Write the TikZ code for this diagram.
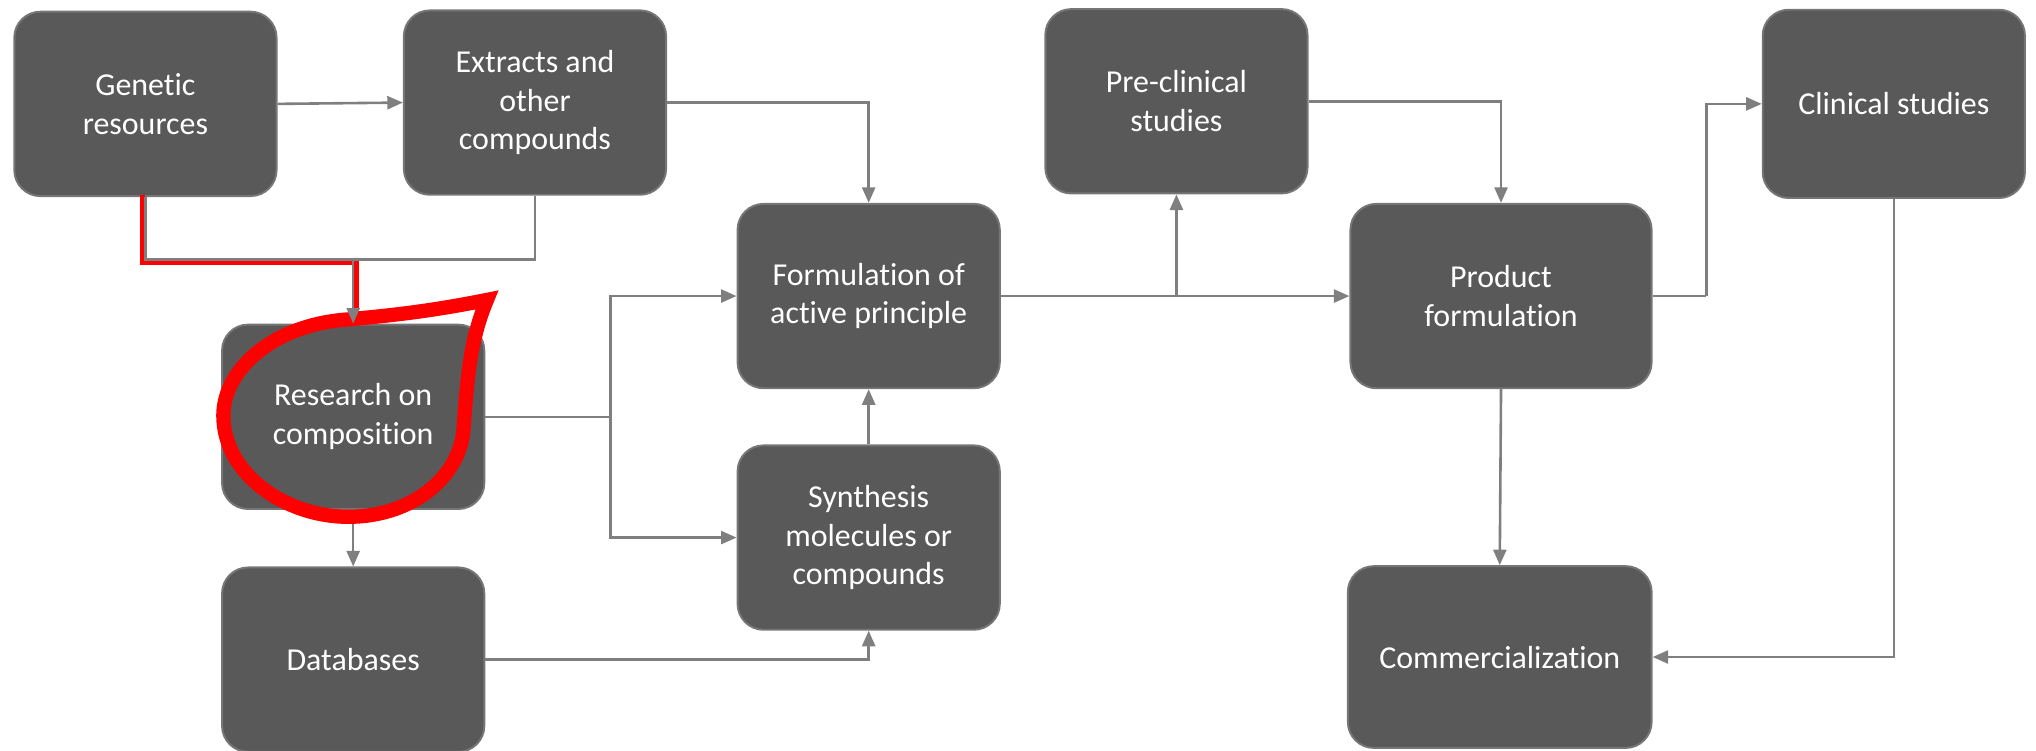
\documentclass[tikz,border=0pt]{standalone}
\usepackage{fontspec}
\setmainfont{Carlito}[Ligatures=NoCommon]
\usetikzlibrary{arrows.meta}

\definecolor{boxgray}{HTML}{595959}
\definecolor{edgegray}{HTML}{767676}
\definecolor{linegray}{HTML}{7F7F7F}

\tikzset{
    stage/.style={draw=edgegray, line width=0.03cm, fill=boxgray, rounded corners=0.4cm,
        text=white, align=center, font=\fontsize{14}{17}\selectfont,
        minimum width=4.04cm, minimum height=2.84cm, inner sep=0pt},
    flow/.style={draw=linegray, line width=0.04cm},
    flowarrow/.style={flow, -{Triangle[length=0.24cm,width=0.2cm]}},
    marker/.style={draw=red, line join=miter},
}

\begin{document}
\begin{tikzpicture}[x=0.02cm,y=-0.02cm]
    \useasboundingbox (0,0) rectangle (1568,578);

    % boxes
    \node[stage] (genetic) at (112,80) {Genetic\\resources};
    \node[stage] (extracts) at (412,79) {Extracts and\\other\\compounds};
    \node[stage] (research) at (272,321) {Research on\\composition};
    \node[stage] (databases) at (272,508) {Databases};
    \node[stage] (formulation) at (669,228) {Formulation of\\active principle};
    \node[stage] (synthesis) at (669,414) {Synthesis\\molecules or\\compounds};
    \node[stage] (preclinical) at (906,78) {Pre-clinical\\studies};
    \node[stage, minimum width=4.64cm] (product) at (1156,228) {Product\\formulation};
    \node[stage, minimum height=2.9cm] (clinical) at (1458.5,80) {Clinical studies};
    \node[stage, minimum width=4.68cm, minimum height=2.8cm] (commerce) at (1155,506) {Commercialization};

    \draw[flowarrow] (research.south) -- (databases.north);

    % red highlight
    \coordinate (jr) at (272,200);
    \draw[marker, line width=0.08cm] (110,150) -- (110,202.4) -- (274.4,202.4) -- (274.4,246);
    \draw[marker, line width=0.22cm] (375,231) .. controls (330,240) and (300,243) .. (268,246)
        .. controls (210,250) and (172,285) .. (172,320)
        .. controls (172,365) and (220,398) .. (268,398)
        .. controls (320,398) and (355,365) .. (357,330)
        .. controls (360,290) and (362,262) .. cycle;

    % connectors
    \draw[flowarrow] (genetic.east) -- (extracts.west);
    \draw[flow] (genetic.south) |- (jr);
    \draw[flow] (extracts.south) |- (jr);
    \draw[flowarrow] (jr) -- (research.north);
    \draw[flowarrow] (extracts.east) -| (formulation.north);

    \coordinate (js) at (470,321);
    \draw[flow] (research.east) -- (js);
    \draw[flowarrow] (js) |- (formulation.west);
    \draw[flowarrow] (js) |- (synthesis.west);
    \draw[flowarrow] (databases.east) -| (synthesis.south);
    \draw[flowarrow] (synthesis.north) -- (formulation.south);

    \coordinate (jp) at (formulation.east -| preclinical.south);
    \draw[flowarrow] (formulation.east) -- (product.west);
    \draw[flowarrow] (jp) -- (preclinical.south);
    \draw[flowarrow] (preclinical.east) -| (product.north);

    \coordinate (jc) at (1314,228);
    \draw[flow] (product.east) -- (jc);
    \draw[flowarrow] (jc) |- (clinical.west);
    \draw[flowarrow] (product.south) -- (commerce.north);
    \draw[flowarrow] (clinical.south) |- (commerce.east);
\end{tikzpicture}
\end{document}
